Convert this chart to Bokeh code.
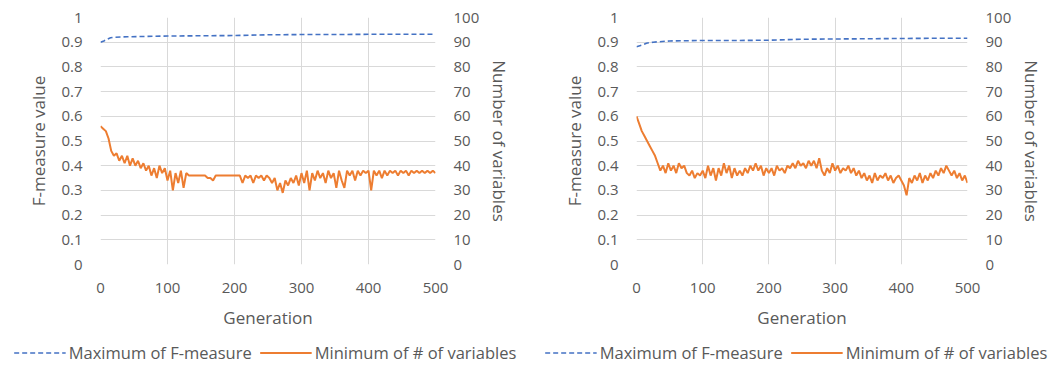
from bokeh.plotting import figure
from bokeh.models import Range1d, LinearAxis, Legend, LegendItem, FixedTicker
from bokeh.layouts import row, column
from bokeh.embed import file_html
from bokeh.resources import INLINE

gen4 = list(range(0, 501, 4))

# Left chart
left_fmax_gen = [0, 5, 10, 15, 20, 40, 60, 100, 150, 200, 250, 300, 350, 400, 450, 500]
left_fmax = [0.900, 0.905, 0.912, 0.918, 0.920, 0.922, 0.923, 0.925, 0.926, 0.927, 0.930, 0.931, 0.931, 0.932, 0.932, 0.932]
left_nvars = [56, 55, 54, 51, 46, 44, 45, 42, 44, 41,
              44, 40, 43, 40, 42, 39, 41, 38, 40, 36,
              39, 35, 40, 37, 39, 34, 38, 30, 37, 33,
              38, 31, 37, 36, 36, 36, 36, 36, 36, 36,
              35, 35, 34, 36, 36, 36, 36, 36, 36, 36,
              36, 36, 36, 33, 36, 35, 36, 33, 36, 35,
              36, 34, 36, 35, 33, 35, 30, 33, 29, 34,
              32, 35, 33, 36, 32, 37, 33, 38, 30, 37,
              34, 38, 35, 37, 33, 38, 35, 37, 31, 38,
              34, 31, 38, 36, 38, 34, 38, 36, 38, 37,
              38, 30, 38, 36, 38, 35, 38, 36, 38, 37,
              38, 36, 38, 37, 38, 36, 38, 37, 38, 37,
              38, 37, 38, 37, 38, 37]

# Right chart
right_fmax_gen = [0, 5, 10, 15, 25, 50, 100, 150, 200, 250, 300, 350, 400, 450, 500]
right_fmax = [0.882, 0.886, 0.890, 0.896, 0.900, 0.905, 0.907, 0.907, 0.908, 0.912, 0.913, 0.914, 0.915, 0.916, 0.916]
right_nvars = [60, 57, 54, 52, 50, 48, 46, 44, 41, 38,
               40, 37, 41, 38, 40, 37, 41, 39, 40, 37,
               36, 38, 35, 37, 36, 38, 35, 40, 36, 39,
               34, 39, 36, 41, 37, 40, 35, 39, 36, 38,
               36, 39, 37, 40, 38, 41, 38, 40, 36, 39,
               37, 39, 36, 40, 38, 39, 37, 40, 39, 41,
               39, 42, 40, 41, 39, 42, 40, 42, 39, 43,
               38, 36, 39, 37, 41, 38, 40, 37, 39, 38,
               40, 37, 39, 36, 38, 35, 37, 34, 36, 33,
               37, 34, 36, 35, 37, 34, 36, 33, 35, 36,
               34, 32, 28, 35, 33, 36, 34, 37, 33, 36,
               34, 37, 35, 38, 36, 39, 37, 40, 38, 36,
               38, 35, 37, 34, 36, 33]

x_ticks = [0, 100, 200, 300, 400, 500]
y_ticks = [0, 0.1, 0.2, 0.3, 0.4, 0.5, 0.6, 0.7, 0.8, 0.9, 1]
y2_ticks = [0, 10, 20, 30, 40, 50, 60, 70, 80, 90, 100]
legend_labels = ["Maximum of F-measure", "Minimum of # of variables"]

FONT = "Open Sans"
TXT = "#595959"
BLUE = "#4472C4"
ORANGE = "#ED7D31"


def panel(fgen, fvals, nvals, width, bl, br):
    p = figure(width=width, height=337, output_backend="svg", toolbar_location=None,
               x_range=Range1d(0, 500), y_range=Range1d(0, 1),
               min_border_left=bl, min_border_right=br, min_border_top=17, min_border_bottom=73)
    p.extra_y_ranges = {"n": Range1d(0, 100)}
    p.outline_line_color = None

    p.line(fgen, fvals, line_color=BLUE, line_width=1.6, line_dash="5 3")
    p.line(gen4, nvals, line_color=ORANGE, line_width=2, y_range_name="n")

    ax2 = LinearAxis(y_range_name="n", axis_label="Number of variables")
    p.add_layout(ax2, "right")

    for ax in [p.xaxis[0], p.yaxis[0], ax2]:
        ax.axis_line_color = None
        ax.major_tick_line_color = None
        ax.minor_tick_line_color = None
        ax.major_label_text_font = FONT
        ax.major_label_text_font_size = "15px"
        ax.major_label_text_color = TXT
        ax.axis_label_text_font = FONT
        ax.axis_label_text_font_size = "17px"
        ax.axis_label_text_font_style = "normal"
        ax.axis_label_text_color = TXT
        ax.major_label_standoff = 12
    p.xaxis[0].ticker = FixedTicker(ticks=x_ticks)
    p.yaxis[0].ticker = FixedTicker(ticks=y_ticks)
    ax2.ticker = FixedTicker(ticks=y2_ticks)
    p.xaxis[0].axis_label = "Generation"
    p.yaxis[0].axis_label = "F-measure value"
    p.xaxis[0].axis_label_standoff = 10
    p.yaxis[0].axis_label_standoff = 8
    ax2.axis_label_standoff = 6

    p.xgrid.ticker = FixedTicker(ticks=x_ticks)
    p.ygrid.ticker = FixedTicker(ticks=y_ticks)
    p.xgrid.grid_line_color = "#d9d9d9"
    p.ygrid.grid_line_color = "#d9d9d9"

    # legend strip below the chart, with its own full-width frame
    lf = figure(width=width, height=30, output_backend="svg", toolbar_location=None,
                x_range=Range1d(0, 1), y_range=Range1d(0, 1),
                x_axis_location=None, y_axis_location=None,
                min_border_left=0, min_border_right=0, min_border_top=0, min_border_bottom=0)
    if "frame_align" in lf.properties():
        lf.frame_align = False
    lf.outline_line_color = None
    lf.xgrid.visible = False
    lf.ygrid.visible = False
    # legend-only renderers, placed outside the visible range
    rb = lf.line([-5, -4], [-5, -5], line_color=BLUE, line_width=1.6, line_dash="5 3")
    ro = lf.line([-5, -4], [-5, -5], line_color=ORANGE, line_width=2)
    leg = Legend(items=[LegendItem(label=legend_labels[0], renderers=[rb]),
                        LegendItem(label=legend_labels[1], renderers=[ro])],
                 orientation="horizontal", location="center")
    leg.label_text_font = FONT
    leg.label_text_font_size = "16.5px"
    leg.label_text_color = TXT
    leg.glyph_width = 52
    leg.spacing = 8
    leg.padding = 0
    leg.margin = 0
    leg.label_standoff = 3
    leg.border_line_color = None
    leg.background_fill_alpha = 0
    lf.add_layout(leg, "center")
    return column(p, lf, spacing=0)


p1 = panel(left_fmax_gen, left_fmax, left_nvars, 530, 100, 95)
p2 = panel(right_fmax_gen, right_fmax, right_nvars, 532, 106, 95)
layout = row(p1, p2, spacing=0)

open("out.html", "w").write(file_html(layout, INLINE))
